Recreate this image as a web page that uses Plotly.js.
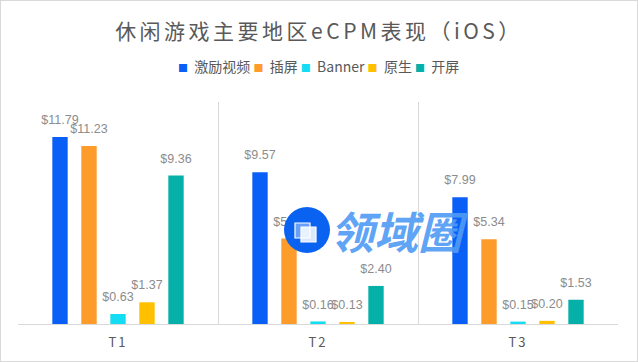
<!DOCTYPE html>
<html>
<head>
<meta charset="utf-8">
<script src="https://cdn.plot.ly/plotly-3.0.1.min.js"></script>
<style>
  html, body { margin: 0; padding: 0; background: #fff; }
  #wrap { position: relative; width: 638px; height: 362px; }
  #chart { width: 638px; height: 362px; }
  #frame { position: absolute; left: 0; top: 0; width: 638px; height: 362px; box-sizing: border-box; border: 1px solid #d9d9d9; pointer-events: none; }
  .gtitle { letter-spacing: 3.5px; }
  .xtick text { letter-spacing: 2px; }
</style>
</head>
<body>
<div id="wrap">
  <div id="chart"></div>
  <div id="frame"></div>
</div>
<script>
// ---- data ----
const categories = ['T1', 'T2', 'T3'];
const seriesNames = ['激励视频', '插屏', 'Banner', '原生', '开屏'];
const rewardedVideo = [11.79, 9.57, 7.99];
const interstitial = [11.23, 5.39, 5.34];
const banner = [0.63, 0.16, 0.15];
const nativeAd = [1.37, 0.13, 0.20];
const splash = [9.36, 2.40, 1.53];
const seriesValues = [rewardedVideo, interstitial, banner, nativeAd, splash];
const seriesColors = ['#0a5ff7', '#fd9b2b', '#14dcf2', '#ffc000', '#05b0a9'];

const GAP = 0.275, GROUPGAP = 0.47;

const traces = [];
seriesValues.forEach((vals, i) => {
  traces.push({
    type: 'bar', x: categories, y: vals, name: seriesNames[i],
    offsetgroup: 'b' + i, alignmentgroup: 'bars',
    marker: { color: seriesColors[i] }, hoverinfo: 'skip', showlegend: false
  });
});
seriesValues.forEach((vals, i) => {
  traces.push({
    type: 'scatter', mode: 'markers+text', x: categories, y: vals,
    orientation: 'v', offsetgroup: 's' + i, alignmentgroup: 'labels',
    texttemplate: '$%{y:.2f}', textposition: 'top center',
    textfont: { family: 'Liberation Sans, Arial, sans-serif', size: 12.5, color: '#8c8c8c' },
    marker: { size: 14, opacity: 0 }, hoverinfo: 'skip', showlegend: false, cliponaxis: false
  });
});

const legendText = seriesNames.map((n, i) =>
  `<span style="color:${seriesColors[i]};font-size:10px">■</span>  ${n}`).join(' ');

const layout = {
  width: 638, height: 362,
  margin: { l: 18, r: 20, t: 102, b: 38 },
  paper_bgcolor: '#ffffff', plot_bgcolor: '#ffffff',
  barmode: 'group', bargap: GAP, bargroupgap: GROUPGAP,
  scattermode: 'group', scattergap: GAP,
  showlegend: false,
  title: {
    text: '休闲游戏主要地区eCPM表现（iOS）',
    font: { family: 'Noto Sans CJK SC, sans-serif', size: 21, color: '#595959' },
    x: 0.5, xanchor: 'center', xref: 'container',
    y: 1 - 32 / 362, yanchor: 'middle', yref: 'container'
  },
  xaxis: {
    type: 'category', tickson: 'boundaries', showgrid: true, gridcolor: '#d9d9d9', gridwidth: 1,
    showline: true, linecolor: '#d9d9d9', linewidth: 1, ticks: '', zeroline: false,
    ticklabelstandoff: 6,
    tickfont: { family: 'Noto Sans CJK SC, sans-serif', size: 13, color: '#595959' },
    fixedrange: true
  },
  yaxis: { visible: false, range: [0, 14], showgrid: false, zeroline: false, fixedrange: true },
  shapes: [
    { type: 'circle', xref: 'paper', yref: 'paper',
      x0: (284 - 18) / 600, x1: (330 - 18) / 600, y0: (324 - 253) / 222, y1: (324 - 207) / 222,
      fillcolor: '#0a62f0', line: { width: 0 }, layer: 'above' },
    { type: 'rect', xref: 'paper', yref: 'paper',
      x0: (295 - 18) / 600, x1: (310 - 18) / 600, y0: (324 - 238) / 222, y1: (324 - 223) / 222,
      fillcolor: 'rgba(200,220,255,0.5)', line: { width: 1.2, color: '#ffffff' }, layer: 'above' },
    { type: 'rect', xref: 'paper', yref: 'paper',
      x0: (301 - 18) / 600, x1: (316 - 18) / 600, y0: (324 - 242) / 222, y1: (324 - 227) / 222,
      fillcolor: 'rgba(255,255,255,0.85)', line: { width: 1.2, color: '#ffffff' }, layer: 'above' }
  ],
  annotations: [
    { text: legendText, xref: 'paper', yref: 'paper', x: 0.5, y: (324 - 66) / 222,
      xanchor: 'center', yanchor: 'middle', showarrow: false,
      font: { family: 'Noto Sans CJK SC, sans-serif', size: 14, color: '#595959' } },
    { text: '<b><i>领域圈</i></b>', xref: 'paper', yref: 'paper',
      x: (399 - 18) / 600, y: (324 - 230) / 222, xanchor: 'center', yanchor: 'middle', showarrow: false,
      font: { family: 'Noto Sans CJK SC, sans-serif', size: 44, color: 'rgba(80,155,245,0.92)', weight: 900, style: 'italic' } }
  ]
};

Plotly.newPlot('chart', traces, layout, { staticPlot: true, displayModeBar: false });
</script>
</body>
</html>
